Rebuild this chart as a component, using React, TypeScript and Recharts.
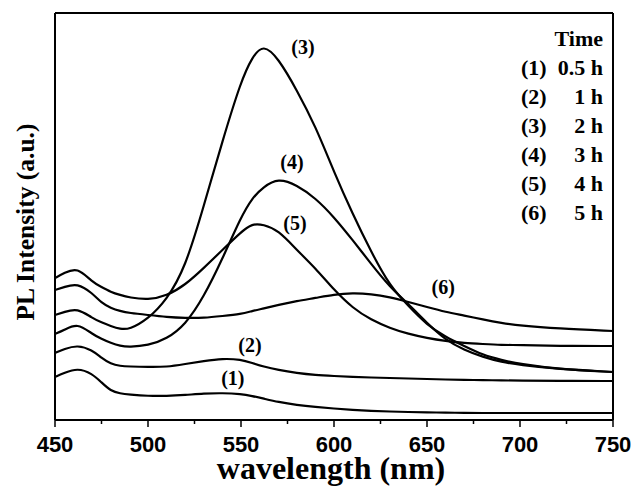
import { LineChart, Line, XAxis, YAxis, ReferenceLine, ReferenceDot, Label } from 'recharts'

// wavelength grid (nm) shared by all six spectra
const wavelengths = [450, 455, 462, 470, 475, 480, 485, 490, 500, 510, 520, 530, 540, 550, 556, 562, 570, 580, 590, 600, 610, 620, 630, 640, 650, 660, 670, 680, 690, 700, 720, 750]

// PL intensity (a.u.)
const t05h = [43, 47, 52, 46.5, 37.5, 29, 26.5, 25.5, 24, 24, 25, 26.5, 27, 26, 24, 21.5, 18, 15, 13, 11.5, 10, 9, 8.5, 8, 7.5, 7.5, 7, 7, 7, 7, 7, 7]
const t1h = [67, 71, 75, 70, 62, 56, 54, 53.5, 53, 53, 56, 59, 61.5, 60.5, 57, 53.5, 50, 47, 45, 44, 43, 42.5, 42, 41.5, 41, 40.5, 40, 40, 39.5, 39.5, 39, 39]
const t2h = [105, 108, 112, 102, 97.5, 94, 91, 90.5, 101, 120, 152, 214, 279, 339, 363, 376, 362, 330, 294, 248, 206, 168, 134, 114, 95, 83, 74, 65, 60, 56, 51, 48]
const t3h = [86, 90, 97, 86, 81, 77, 74, 73, 74.5, 81, 95, 123, 161, 203, 222, 233, 242, 235, 222, 203, 180, 156, 133, 116, 97, 80, 70, 63, 58, 55, 51, 48]
const t4h = [142, 147, 153, 138, 133, 128, 125, 122.5, 120, 124, 135, 152, 170, 188, 196.5, 195.5, 190, 170, 152, 130, 112, 100, 92, 86, 82, 79, 77, 76, 75, 75, 74, 74]
const t5h = [130, 133, 137, 127, 117, 112, 109, 107, 105, 103, 102, 102, 104, 106, 109, 111.5, 115, 119, 122, 125.5, 127, 126, 123, 118, 113, 108, 104.5, 100.5, 97, 94.5, 91.5, 89]

const seriesKeys = ['t05h', 't1h', 't2h', 't3h', 't4h', 't5h']
const curveTags = ['(1)', '(2)', '(3)', '(4)', '(5)', '(6)']
const legendTimes = ['0.5 h', '1 h', '2 h', '3 h', '4 h', '5 h']

// where each "(n)" tag sits, in data units
const tagWavelength = [545.6, 554.8, 583.3, 577.4, 579, 658.7]
const tagIntensity = [42, 75, 373, 258, 197, 133]

const xTicks = [450, 475, 500, 525, 550, 575, 600, 625, 650, 675, 700, 725, 750]

const data = wavelengths.map((w, i) => ({
  w,
  t05h: t05h[i],
  t1h: t1h[i],
  t2h: t2h[i],
  t3h: t3h[i],
  t4h: t4h[i],
  t5h: t5h[i],
}))

const serif = '"Liberation Serif", "Times New Roman", serif'
const sans = '"Liberation Sans", Arial, sans-serif'

function WaveTick(props: any) {
  const { x, y, payload } = props
  const major = payload.value % 50 === 0
  return (
    <g>
      <line x1={x} y1={y} x2={x} y2={y + (major ? 7 : 4)} stroke="#000" strokeWidth={1.5} />
      {major && (
        <text x={x} y={y + 32} textAnchor="middle" fontFamily={sans} fontWeight="bold" fontSize={22} fill="#000">
          {payload.value}
        </text>
      )}
    </g>
  )
}

function YTitle() {
  return (
    <text
      transform="translate(25, 222) rotate(-90)"
      textAnchor="middle"
      dominantBaseline="central"
      fontFamily={serif}
      fontWeight="bold"
      fontSize={25.5}
      fill="#000"
    >
      PL Intensity (a.u.)
    </text>
  )
}

export default function App() {
  return (
    <div style={{ position: 'absolute', left: 0, top: 0, width: 635, height: 491, background: '#fff' }}>
      <LineChart width={635} height={491} data={data} margin={{ top: 13, right: 22, bottom: 0, left: 0 }}>
        <XAxis
          dataKey="w"
          type="number"
          domain={[450, 750]}
          ticks={xTicks}
          interval={0}
          height={71}
          tickSize={0}
          tickMargin={0}
          tickLine={false}
          tick={<WaveTick />}
          axisLine={{ stroke: '#000', strokeWidth: 2 }}
        >
          <Label
            value="wavelength (nm)"
            position="insideBottom"
            offset={12}
            dx={-3}
            fontFamily={serif}
            fontWeight="bold"
            fontSize={32}
            fill="#000"
          />
        </XAxis>
        <YAxis type="number" domain={[0, 407]} width={55} tick={false} tickLine={false} axisLine={false}>
          <Label content={<YTitle />} />
        </YAxis>

        <ReferenceLine y={407} stroke="#000" strokeWidth={2} />
        <ReferenceLine x={450} stroke="#000" strokeWidth={2} />
        <ReferenceLine x={750} stroke="#000" strokeWidth={2} />

        {seriesKeys.map((k) => (
          <Line
            key={k}
            type="basis"
            dataKey={k}
            stroke="#000"
            strokeWidth={2.2}
            dot={false}
            activeDot={false}
            isAnimationActive={false}
          />
        ))}

        {curveTags.map((tag, i) => (
          <ReferenceDot key={tag} x={tagWavelength[i]} y={tagIntensity[i]} r={0} stroke="none" fill="none">
            <Label value={tag} position="center" fontFamily={serif} fontWeight="bold" fontSize={20} fill="#000" />
          </ReferenceDot>
        ))}
      </LineChart>

      <div
        style={{
          position: 'absolute',
          left: 521,
          top: 24,
          width: 82,
          fontFamily: serif,
          fontWeight: 'bold',
          fontSize: 22,
          lineHeight: '29px',
          color: '#000',
        }}
      >
        <div style={{ textAlign: 'right' }}>Time</div>
        {legendTimes.map((t, i) => (
          <div key={t} style={{ display: 'flex', justifyContent: i === 0 ? 'flex-start' : 'space-between', gap: 5 }}>
            <span>{curveTags[i]}</span>
            <span style={{ marginLeft: i === 0 ? 'auto' : 0 }}>{t}</span>
          </div>
        ))}
      </div>
    </div>
  )
}
